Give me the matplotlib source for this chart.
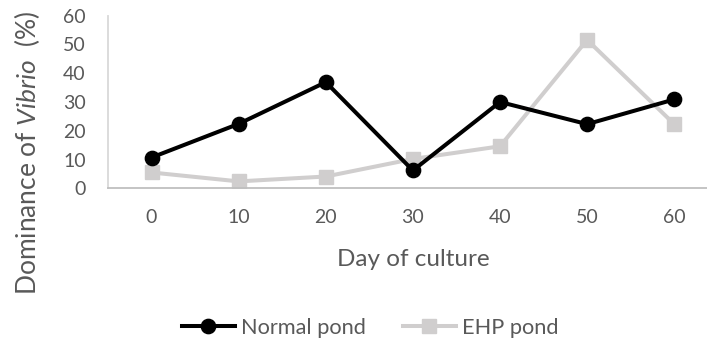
import matplotlib
matplotlib.use("Agg")
import matplotlib.pyplot as plt

days = [0, 10, 20, 30, 40, 50, 60]
normal_pond = [10.7, 22.4, 36.9, 6.2, 30.0, 22.3, 30.9]
ehp_pond = [5.5, 2.4, 4.1, 10.2, 14.6, 51.6, 22.3]
y_ticks = [0, 10, 20, 30, 40, 50, 60]

plt.rcParams['font.family'] = ['Lato', 'DejaVu Sans']
plt.rcParams['mathtext.fontset'] = 'custom'
plt.rcParams['mathtext.rm'] = 'Lato'
plt.rcParams['mathtext.it'] = 'Lato:italic'

txt = '#595959'
fig = plt.figure(figsize=(7.07, 3.46), dpi=100)
ax = fig.add_axes([108/707, 1-188.3/346, (717.8-108)/707, (188.3-15.7)/346])

xpos = list(range(len(days)))
ax.plot(xpos, normal_pond, color='black', lw=2.9, marker='o', ms=10.3,
        label='Normal pond', zorder=3)
ax.plot(xpos, ehp_pond, color='#d0cece', lw=2.9, marker='s', ms=10,
        label='EHP pond', zorder=2)

ax.set_xlim(-0.5, 6.5)
ax.set_ylim(0, 60)
ax.set_yticks(y_ticks)
ax.set_xticks(xpos)
ax.set_xticklabels([str(d) for d in days])
ax.tick_params(length=0, labelsize=14, colors=txt)
ax.tick_params(axis='x', pad=15)
ax.tick_params(axis='y', pad=16)
for s in ['top', 'right']:
    ax.spines[s].set_visible(False)
ax.spines['left'].set_color('#d9d9d9')
ax.spines['bottom'].set_color('#bfbfbf')
ax.spines['left'].set_linewidth(1.3)
ax.spines['bottom'].set_linewidth(1.3)

fig.text(27/707, 1-152.5/346, r'Dominance of $\it{Vibrio}$  (%)', rotation=90,
         ha='center', va='center', fontsize=19, color=txt)
fig.text(413/707, 1-266/346, 'Day of culture', ha='center', va='baseline',
         fontsize=17.5, color=txt)

leg = fig.legend(loc='center', bbox_to_anchor=(370/707, 1-328/346), ncol=2,
                 frameon=False, fontsize=15.7, handlelength=2.43,
                 handletextpad=0.27, columnspacing=1.7)
for t in leg.get_texts():
    t.set_color(txt)

fig.savefig('out.png', dpi=100)
